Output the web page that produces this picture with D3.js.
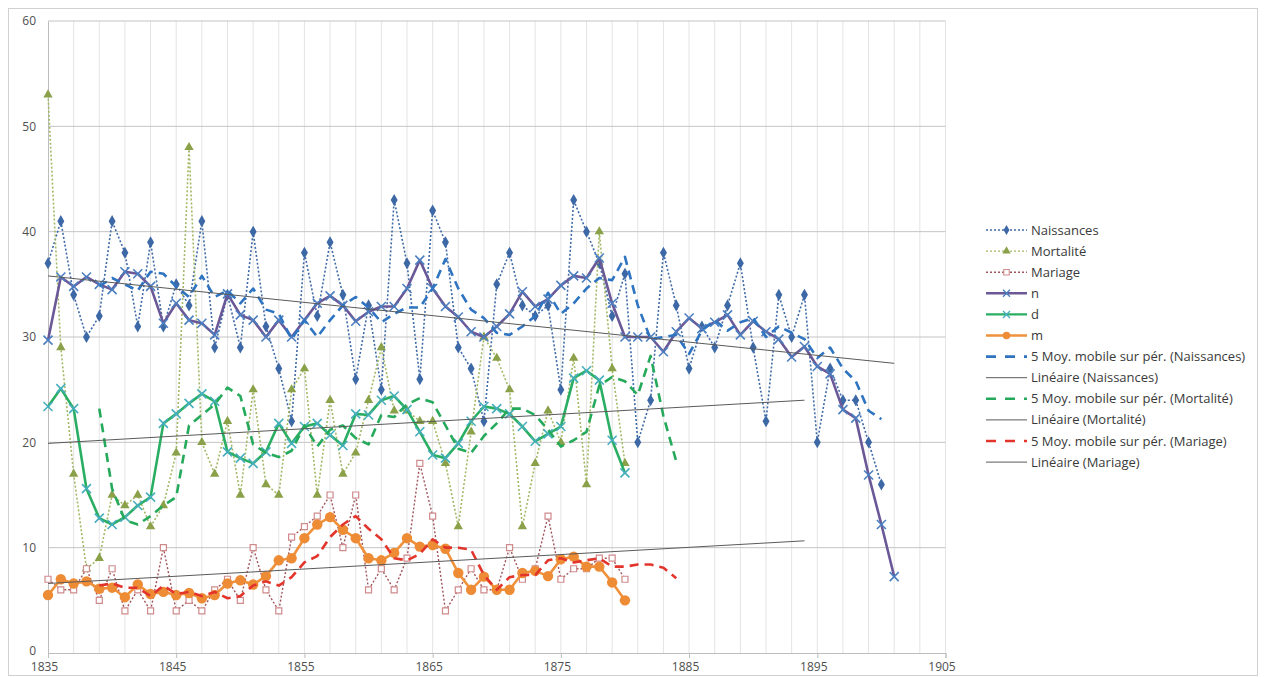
<!DOCTYPE html>
<html>
<head>
<meta charset="utf-8">
<script src="https://d3js.org/d3.v7.min.js"></script>
<style>
body { margin: 0; background: #fff; }
svg { display: block; }
text { font-family: "Open Sans", sans-serif; }
</style>
</head>
<body>
<div id="chart"></div>
<script>
// first year of every series
var startYear = 1835;

// yearly values
var naissances = [37, 41, 34, 30, 32, 41, 38, 31, 39, 31, 35, 33, 41, 29, 34, 29, 40, 31, 27, 22,
  38, 32, 39, 34, 26, 33, 25, 43, 37, 26, 42, 39, 29, 27, 22, 35, 38, 33, 32, 33,
  25, 43, 40, 37, 32, 36, 20, 24, 38, 33, 27, 31, 29, 33, 37, 29, 22, 34, 30, 34,
  20, 27, 24, 24, 20, 16];
var mortalite = [53, 29, 17, 8, 9, 15, 14, 15, 12, 14, 19, 48, 20, 17, 22, 15, 25, 16, 15, 25,
  27, 15, 24, 17, 19, 24, 29, 23, 23, 22, 22, 18, 12, 21, 30, 28, 25, 12, 18, 23,
  20, 28, 16, 40, 27, 18];
var mariage = [7, 6, 6, 8, 5, 8, 4, 6, 4, 10, 4, 5, 4, 6, 7, 5, 10, 6, 4, 11,
  12, 13, 15, 10, 15, 6, 8, 6, 9, 18, 13, 4, 6, 8, 6, 6, 10, 7, 8, 13,
  7, 8, 8, 9, 9, 7];
var nVals = [29.7, 35.7, 34.8, 35.7, 35.0, 34.5, 36.2, 36.0, 34.8, 31.3,
  33.2, 31.6, 31.3, 30.2, 34.1, 32.1, 31.6, 30.0, 31.6, 30.0,
  31.6, 33.2, 33.9, 33.0, 31.5, 32.4, 32.9, 32.9, 34.6, 37.3,
  34.6, 32.9, 31.9, 30.5, 30.0, 31.0, 32.2, 34.3, 32.9, 33.6,
  34.9, 35.8, 35.6, 37.5, 33.2, 30.0, 30.0, 30.0, 28.6, 30.5,
  31.8, 30.8, 31.4, 32.1, 30.2, 31.5, 30.5, 29.8, 28.1, 29.1,
  27.2, 26.5, 23.1, 22.3, 16.9, 12.2, 7.25];
var dVals = [23.4, 25.1, 23.2, 15.6, 12.8, 12.2, 12.9, 14.0, 14.8, 21.8,
  22.7, 23.7, 24.6, 23.9, 19.1, 18.5, 18.0, 19.1, 21.8, 19.9,
  21.5, 21.8, 20.7, 19.7, 22.7, 22.6, 24.0, 24.4, 23.1, 21.0,
  18.8, 18.5, 19.9, 22.0, 23.4, 23.2, 22.7, 21.5, 20.1, 20.8,
  21.5, 26.1, 26.8, 25.9, 20.2, 17.1];
var mVals = [5.5, 7.0, 6.6, 6.8, 6.1, 6.2, 5.3, 6.5, 5.6, 5.8,
  5.5, 5.7, 5.2, 5.5, 6.6, 6.9, 6.5, 7.3, 8.8, 9.0,
  10.9, 12.2, 12.9, 11.7, 10.9, 9.0, 8.8, 9.5, 10.9, 10.1,
  10.25, 9.9, 7.6, 6.0, 7.25, 6.0, 6.0, 7.6, 7.8, 7.3,
  8.9, 9.15, 8.2, 8.2, 6.7, 5.0];

// moving average lines (5 periods), they start in 1839
var maStart = 1839;
var maNaissances = [34.8, 35.6, 35.0, 34.4, 36.2, 36.0, 34.8, 33.8, 35.8, 33.8,
  34.4, 33.2, 34.6, 32.6, 32.2, 29.8, 31.6, 30.0, 31.6, 33.0,
  33.8, 32.8, 31.4, 32.2, 32.8, 32.8, 34.6, 37.4, 34.6, 32.6,
  31.8, 30.4, 30.2, 31.0, 32.0, 34.2, 32.2, 33.2, 34.6, 35.6,
  35.4, 37.6, 33.0, 29.8, 30.0, 30.2, 28.4, 30.6, 31.6, 30.6,
  31.4, 31.8, 30.0, 31.0, 30.4, 29.8, 28.0, 29.0, 27.0, 25.8,
  23.0, 22.2];
var maMortalite = [23.2, 15.6, 12.6, 12.2, 13.0, 14.0, 14.8, 21.6, 22.6, 23.6,
  25.2, 24.4, 19.8, 19.0, 18.6, 19.2, 21.6, 19.6, 21.2, 21.6,
  20.4, 19.8, 22.6, 22.4, 23.6, 24.2, 23.8, 21.6, 19.4, 19.0,
  20.6, 21.8, 23.2, 23.2, 22.6, 21.2, 19.6, 20.2, 21.0, 25.4,
  26.2, 25.8, 24.5, 28.2, 22.5, 18.2];
var maMariage = [6.4, 6.6, 6.2, 6.2, 5.4, 6.4, 5.6, 5.8, 5.4, 5.8,
  5.2, 5.4, 6.4, 6.8, 6.4, 7.2, 8.6, 9.2, 11.0, 12.2,
  13.0, 11.8, 10.8, 9.0, 8.8, 9.4, 10.8, 10.0, 10.0, 9.8,
  7.4, 6.0, 7.2, 7.4, 7.4, 8.8, 9.0, 8.6, 8.8, 9.0,
  8.2, 8.2, 8.4, 8.4, 8.1, 7.1];

// linear trend lines: [year, value] at both ends
var linNaissances = [[1835, 35.8], [1901, 27.5]];
var linMortalite = [[1835, 19.9], [1894, 24.0]];
var linMariage = [[1835, 6.6], [1894, 10.65]];

var yTicks = [0, 10, 20, 30, 40, 50, 60];
var xTicks = [1835, 1845, 1855, 1865, 1875, 1885, 1895, 1905];

var legendNames = ["Naissances", "Mortalité", "Mariage", "n", "d", "m",
  "5 Moy. mobile sur pér. (Naissances)", "Linéaire (Naissances)",
  "5 Moy. mobile sur pér. (Mortalité)", "Linéaire (Mortalité)",
  "5 Moy. mobile sur pér. (Mariage)", "Linéaire (Mariage)"];

// turn a value list into points
function toPoints(vals, first) {
  return vals.map(function(v, i) { return { yr: first + i, v: v }; });
}

var width = 1266, height = 677;
var svg = d3.select("#chart").append("svg")
  .attr("width", width).attr("height", height);

// outer frame of the chart
svg.append("rect")
  .attr("x", 8.5).attr("y", 8.5)
  .attr("width", 1249).attr("height", 667)
  .attr("fill", "#fff").attr("stroke", "#d0d0d0");

var x = d3.scaleLinear().domain([1835, 1905]).range([48, 945.5]);
var y = d3.scaleLinear().domain([0, 60]).range([653, 21]);

// vertical grid, every two years
var vGrid = d3.range(1837, 1906, 2);
svg.append("g").selectAll("line").data(vGrid).enter().append("line")
  .attr("x1", function(d) { return x(d); }).attr("x2", function(d) { return x(d); })
  .attr("y1", y(60)).attr("y2", y(0))
  .attr("stroke", "#e4e4e4").attr("stroke-width", 1);

// horizontal grid
svg.append("g").selectAll("line").data(yTicks.slice(1)).enter().append("line")
  .attr("x1", x(1835)).attr("x2", x(1905))
  .attr("y1", function(d) { return y(d); }).attr("y2", function(d) { return y(d); })
  .attr("stroke", "#c4c4c4").attr("stroke-width", 1);

// axes
var yAxis = svg.append("g").attr("transform", "translate(" + x(1835) + ",0)")
  .call(d3.axisLeft(y).tickValues(yTicks).tickSize(0).tickPadding(12));
var xAxis = svg.append("g").attr("transform", "translate(0," + y(0) + ")")
  .call(d3.axisBottom(x).tickValues(xTicks).tickFormat(d3.format("d")).tickSize(5).tickPadding(4));
[yAxis, xAxis].forEach(function(a) {
  a.select(".domain").attr("stroke", "#bdbdbd");
  a.selectAll(".tick line").attr("stroke", "#bdbdbd");
  a.selectAll("text").attr("fill", "#505050").style("font-size", "12px")
    .style("font-family", "'Open Sans', sans-serif");
});
// labels of the year axis sit a little to the left in the original
xAxis.selectAll(".tick text").attr("dx", "-4");
// keep the zero label clear of the first year label
yAxis.selectAll(".tick text").filter(function(d) { return d == 0; }).attr("dy", "0.1em");

var line = d3.line().x(function(d) { return x(d.yr); }).y(function(d) { return y(d.v); });

function drawLine(pts, color, w, dash) {
  svg.append("path").datum(pts)
    .attr("d", line)
    .attr("fill", "none")
    .attr("stroke", color)
    .attr("stroke-width", w)
    .attr("stroke-dasharray", dash || null)
    .attr("stroke-linejoin", "round");
}

var crossPath = "M-4.5,-4.5L4.5,4.5M-4.5,4.5L4.5,-4.5";

function drawMarkers(pts, kind, color) {
  var g = svg.append("g");
  var sel = g.selectAll("path").data(pts).enter().append("path")
    .attr("transform", function(d) { return "translate(" + x(d.yr) + "," + y(d.v) + ")"; });
  if (kind == "diamond") {
    sel.attr("d", d3.symbol().type(d3.symbolDiamond).size(42)).attr("fill", color);
  } else if (kind == "triangle") {
    sel.attr("d", d3.symbol().type(d3.symbolTriangle).size(38)).attr("fill", color);
  } else if (kind == "square") {
    sel.attr("d", d3.symbol().type(d3.symbolSquare).size(36))
      .attr("fill", "#fff").attr("stroke", color).attr("stroke-width", 1.2);
  } else if (kind == "cross") {
    sel.attr("d", crossPath).attr("fill", "none").attr("stroke", color).attr("stroke-width", 1.6);
  } else if (kind == "circle") {
    sel.attr("d", d3.symbol().type(d3.symbolCircle).size(85)).attr("fill", color);
  }
}

var nP = toPoints(naissances, startYear);
var moP = toPoints(mortalite, startYear);
var maP = toPoints(mariage, startYear);
var n2 = toPoints(nVals, startYear);
var d2 = toPoints(dVals, startYear);
var m2 = toPoints(mVals, startYear);

// dotted raw series
drawLine(nP, "#3f6aa8", 1.6, "2,2");
drawMarkers(nP, "diamond", "#3d68a6");
drawLine(moP, "#a3b865", 1.6, "2,2");
drawMarkers(moP, "triangle", "#8aa14a");
drawLine(maP, "#a0545a", 1.4, "2,2");
drawMarkers(maP, "square", "#cf8a8c");

// solid series
drawLine(n2, "#6a5897", 2.6);
drawMarkers(n2, "cross", "#4b7fc0");
drawLine(d2, "#2aae63", 2.6);
drawMarkers(d2, "cross", "#46aebd");
drawLine(m2, "#f0913c", 2.6);
drawMarkers(m2, "circle", "#ee8b35");

// trend lines
drawLine(toPoints(maNaissances, maStart), "#2f74c0", 2.6, "9,6");
drawLine(toPoints(maMortalite, maStart), "#25a95a", 2.6, "9,6");
drawLine(toPoints(maMariage, maStart), "#e3342c", 2.6, "9,6");
[linNaissances, linMortalite, linMariage].forEach(function(l) {
  drawLine(l.map(function(p) { return { yr: p[0], v: p[1] }; }), "#5a5a5a", 1);
});

// legend
var legend = svg.append("g");
var legY0 = 230, legStep = 21.1, sx0 = 986, sx1 = 1027;
legendNames.forEach(function(name, i) {
  var ly = legY0 + i * legStep;
  var g = legend.append("g");
  if (i < 3) {
    var cols = [["#3f6aa8", "#3d68a6"], ["#a3b865", "#8aa14a"], ["#a0545a", "#cf8a8c"]][i];
    g.append("line").attr("x1", sx0).attr("x2", sx1).attr("y1", ly).attr("y2", ly)
      .attr("stroke", cols[0]).attr("stroke-width", 1.4).attr("stroke-dasharray", "2,2");
    var kind = ["diamond", "triangle", "square"][i];
    var mk = g.append("path").attr("transform", "translate(" + ((sx0 + sx1) / 2) + "," + ly + ")");
    if (kind == "square") {
      mk.attr("d", d3.symbol().type(d3.symbolSquare).size(30)).attr("fill", "#fff")
        .attr("stroke", cols[1]).attr("stroke-width", 1.1);
    } else {
      mk.attr("d", d3.symbol().type(kind == "diamond" ? d3.symbolDiamond : d3.symbolTriangle).size(30))
        .attr("fill", cols[1]);
    }
  } else if (i < 6) {
    var c = [["#6a5897", "#4b7fc0"], ["#2aae63", "#46aebd"], ["#f0913c", "#ee8b35"]][i - 3];
    g.append("line").attr("x1", sx0).attr("x2", sx1).attr("y1", ly).attr("y2", ly)
      .attr("stroke", c[0]).attr("stroke-width", 2.4);
    var mk2 = g.append("path").attr("transform", "translate(" + ((sx0 + sx1) / 2) + "," + ly + ")");
    if (i == 5) {
      mk2.attr("d", d3.symbol().type(d3.symbolCircle).size(45)).attr("fill", c[1]);
    } else {
      mk2.attr("d", "M-3.5,-3.5L3.5,3.5M-3.5,3.5L3.5,-3.5").attr("stroke", c[1]).attr("stroke-width", 1.4);
    }
  } else if (i % 2 == 0) {
    var mc = ["#2f74c0", "#25a95a", "#e3342c"][(i - 6) / 2];
    g.append("line").attr("x1", sx0).attr("x2", sx1).attr("y1", ly).attr("y2", ly)
      .attr("stroke", mc).attr("stroke-width", 2.6).attr("stroke-dasharray", "10,9");
  } else {
    g.append("line").attr("x1", sx0).attr("x2", sx1).attr("y1", ly).attr("y2", ly)
      .attr("stroke", "#5a5a5a").attr("stroke-width", 1);
  }
  g.append("text").attr("x", sx1 + 4).attr("y", ly + 4.5)
    .attr("fill", "#3a3a3a").style("font-size", "13px").text(name);
});
</script>
</body>
</html>
